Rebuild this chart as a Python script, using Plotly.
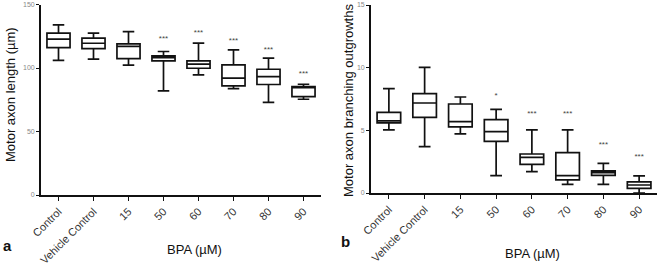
import plotly.graph_objects as go

categories = ["Control", "Vehicle Control", "15", "50", "60", "70", "80", "90"]

# Panel a: motor axon length (µm)
a_lower = [106, 107, 102.2, 82, 94.6, 83.8, 73, 75.4]
a_q1 = [116, 115.3, 107.4, 105.6, 99.8, 86, 87, 77.4]
a_median = [122.7, 119.5, 117, 108.2, 103, 92, 93.2, 84.5]
a_q3 = [127.4, 123.5, 119, 109.6, 105.6, 102.5, 99, 85.3]
a_upper = [134, 127.4, 128.7, 113, 119.6, 114.3, 107.7, 87.2]
a_sig = ["", "", "", "***", "***", "***", "***", "***"]
a_sig_y = [None, None, None, 123, 127.5, 121, 114, 95.5]

# Panel b: motor axon branching outgrowths
b_lower = [5.03, 3.7, 4.71, 1.38, 1.7, 0.69, 0.69, 0.0]
b_q1 = [5.6, 6.04, 5.27, 4.12, 2.29, 1.04, 1.41, 0.37]
b_median = [5.75, 7.18, 5.69, 4.9, 2.85, 1.38, 1.62, 0.64]
b_q3 = [6.44, 7.93, 7.1, 5.85, 3.11, 3.22, 1.76, 0.88]
b_upper = [8.32, 10.03, 7.66, 6.68, 5.03, 5.03, 2.37, 1.36]
b_sig = ["", "", "", "*", "***", "***", "***", "***"]
b_sig_y = [None, None, None, 7.7, 6.3, 6.3, 3.85, 2.9]

a_ticks = [0, 50, 100, 150]
b_ticks = [0, 5, 10, 15]

W, H = 660, 265
box_style = dict(
    boxpoints=False, fillcolor="white", line=dict(color="#111", width=1.7),
    width=0.66, whiskerwidth=0.5, showlegend=False, hoverinfo="skip",
)

fig = go.Figure()
fig.add_trace(go.Box(x=categories, q1=a_q1, median=a_median, q3=a_q3,
                     lowerfence=a_lower, upperfence=a_upper,
                     xaxis="x", yaxis="y", **box_style))
fig.add_trace(go.Box(x=categories, q1=b_q1, median=b_median, q3=b_q3,
                     lowerfence=b_lower, upperfence=b_upper,
                     xaxis="x2", yaxis="y2", **box_style))
fig.add_trace(go.Scatter(x=categories, y=a_sig_y, text=a_sig, mode="text",
                         textfont=dict(size=8, color="#444", family="Liberation Sans"),
                         xaxis="x", yaxis="y", showlegend=False, hoverinfo="skip"))
fig.add_trace(go.Scatter(x=categories, y=b_sig_y, text=b_sig, mode="text",
                         textfont=dict(size=8, color="#444", family="Liberation Sans"),
                         xaxis="x2", yaxis="y2", showlegend=False, hoverinfo="skip"))

xcommon = dict(type="category", range=[-0.5, 7.5], showgrid=False, zeroline=False,
               showline=True, linecolor="#111", linewidth=1.7,
               ticks="outside", ticklen=4, tickwidth=1.4, tickcolor="#111",
               tickangle=-45, tickfont=dict(size=11, color="#333", family="Liberation Sans"),
               automargin=False, fixedrange=True)
ycommon = dict(showgrid=False, zeroline=False, showline=True, linecolor="#111", linewidth=1.7,
               ticks="outside", ticklen=3, tickwidth=1.2, tickcolor="#111",
               tickfont=dict(size=7, color="#888", family="Liberation Sans"),
               automargin=False, fixedrange=True)

fig.update_layout(
    width=W, height=H, margin=dict(l=0, r=0, t=0, b=0),
    paper_bgcolor="white", plot_bgcolor="white",
    font=dict(family="Liberation Sans"),
    xaxis=dict(domain=[41 / W, 321 / W], anchor="y", **xcommon),
    yaxis=dict(domain=[1 - 195 / H, 1 - 4.5 / H], range=[0, 150], tickvals=a_ticks,
               anchor="x", **ycommon),
    xaxis2=dict(domain=[371 / W, 657 / W], anchor="y2", **xcommon),
    yaxis2=dict(domain=[1 - 193 / H, 1 - 5 / H], range=[0, 15], tickvals=b_ticks,
                anchor="x2", **ycommon),
)

ann = [
    dict(text="Motor axon length (µm)", x=11 / W, y=1 - 95 / H, textangle=-90, size=13),
    dict(text="Motor axon branching outgrowths", x=348 / W, y=1 - 100 / H, textangle=-90, size=13),
    dict(text="BPA (µM)", x=194 / W, y=1 - 249 / H, textangle=0, size=13),
    dict(text="BPA (µM)", x=532 / W, y=1 - 253 / H, textangle=0, size=13),
    dict(text="<b>a</b>", x=7 / W, y=1 - 245 / H, textangle=0, size=15),
    dict(text="<b>b</b>", x=345 / W, y=1 - 241 / H, textangle=0, size=15),
]
for a in ann:
    fig.add_annotation(text=a["text"], x=a["x"], y=a["y"], xref="paper", yref="paper",
                       showarrow=False, textangle=a["textangle"], xanchor="center", yanchor="middle",
                       font=dict(size=a["size"], color="#111", family="Liberation Sans"))

fig.write_html("out.html", config={"displayModeBar": False},
               post_script="document.body.style.margin='0px';document.body.style.overflow='hidden';")
